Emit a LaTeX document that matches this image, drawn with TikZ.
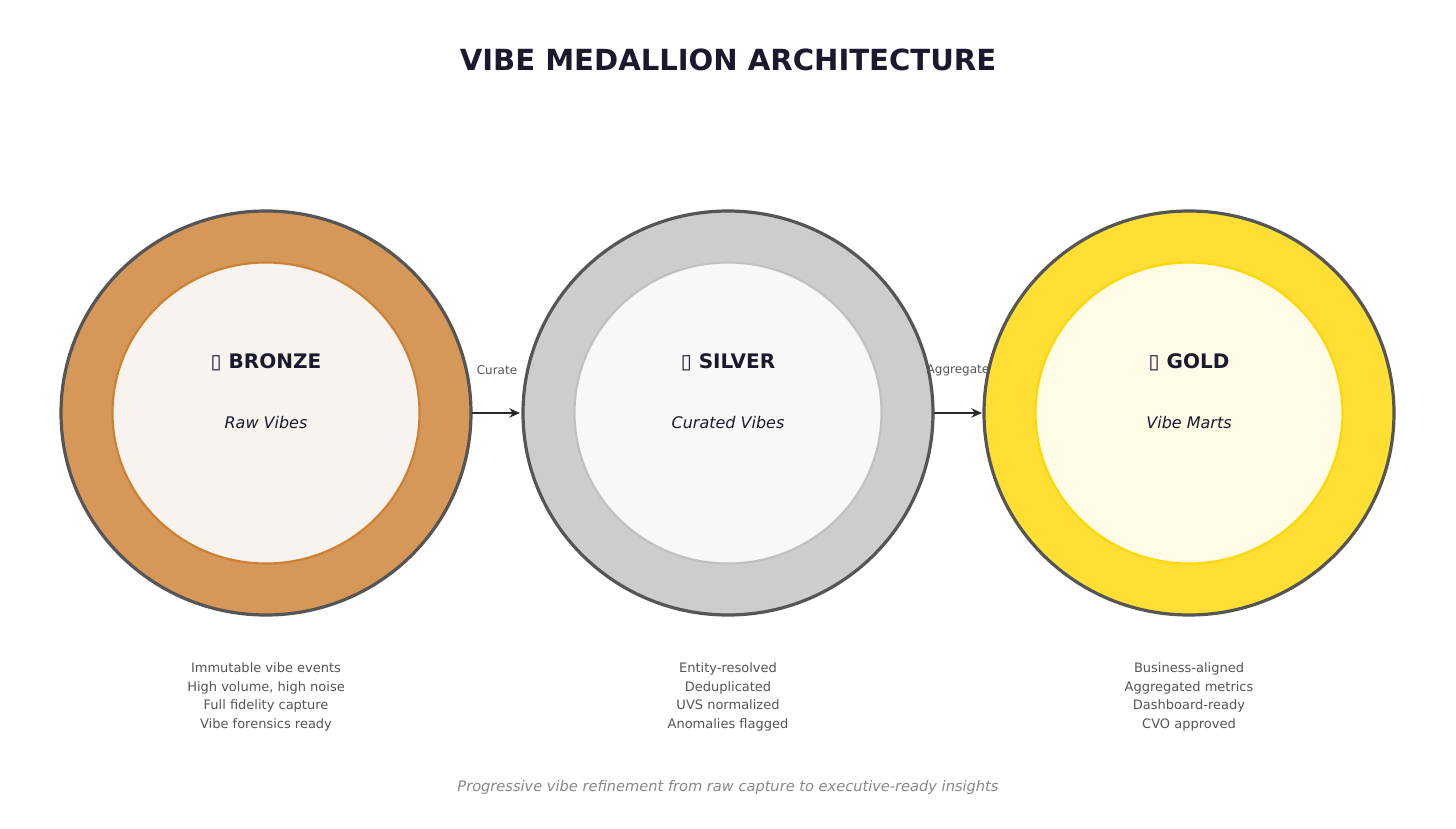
\documentclass[tikz,border=0pt]{standalone}
\usepackage{fontspec}
\setmainfont{DejaVu Sans}
\newfontfamily\symfont{DejaVu Sans}
\usetikzlibrary{arrows.meta}
\definecolor{titlec}{HTML}{1A1A2E}
\definecolor{ringc}{HTML}{555555}
\definecolor{arrowc}{HTML}{2A2A2A}
\definecolor{bronzeo}{HTML}{D69859}
\definecolor{bronzei}{HTML}{F8F3EE}
\definecolor{bronzes}{HTML}{CD7F32}
\definecolor{silvero}{HTML}{CDCDCD}
\definecolor{silveri}{HTML}{F8F8F8}
\definecolor{silvers}{HTML}{C0C0C0}
\definecolor{goldo}{HTML}{FFDF33}
\definecolor{goldi}{HTML}{FFFBE6}
\definecolor{golds}{HTML}{FFD700}
\definecolor{descc}{HTML}{555555}
\definecolor{footc}{HTML}{888888}
\newcommand{\fpx}[2]{\fontsize{\dimexpr #1pt*3/4\relax}{\dimexpr #2pt*3/4\relax}\selectfont}
\tikzset{
  lvltitle/.style={font=\fpx{20}{24}\bfseries, text=titlec, inner sep=0pt},
  lvlsub/.style={font=\fpx{16}{19}\itshape, text=titlec, inner sep=0pt},
  desc/.style={font=\fpx{13}{18.7}, text=descc, align=center, inner sep=0pt},
  flowlbl/.style={font=\fpx{12}{14}, text=descc, inner sep=0pt},
  flow/.style={-{Stealth[length=8pt,width=7pt]}, draw=arrowc, line width=2pt}
}
\begin{document}
\begin{tikzpicture}[x=0.75pt,y=-0.75pt]
\useasboundingbox[fill=white] (0,0) rectangle (1456,828);
\node[font=\fpx{29.1}{34}\bfseries, text=titlec, inner sep=0pt] (title) at (728,60) {VIBE MEDALLION ARCHITECTURE};
% bronze
\fill[bronzeo, draw=ringc, line width=2.4pt] (266,413) ellipse [x radius=205, y radius=202];
\fill[bronzei, draw=bronzes, line width=1.6pt] (266,413) ellipse [x radius=153.5, y radius=150.5];
% silver
\fill[silvero, draw=ringc, line width=2.4pt] (728,413) ellipse [x radius=205, y radius=202];
\fill[silveri, draw=silvers, line width=1.6pt] (728,413) ellipse [x radius=153.5, y radius=150.5];
% gold
\fill[goldo, draw=ringc, line width=2.4pt] (1189,413) ellipse [x radius=205, y radius=202];
\fill[goldi, draw=golds, line width=1.6pt] (1189,413) ellipse [x radius=153.5, y radius=150.5];
\coordinate (bR) at (472,413);
\coordinate (sL) at (520,413);
\coordinate (sR) at (934,413);
\coordinate (gL) at (982,413);
\draw[flow] (bR) -- (sL);
\draw[flow] (sR) -- (gL);
\node[flowlbl] (curate) at (497,370) {Curate};
\node[flowlbl] (aggr) at (958,370) {Aggregate};
\node[lvltitle] (bt) at (266,362) {{\symfont ▯} BRONZE};
\node[lvlsub] (bs) at (266,423) {Raw Vibes};
\node[lvltitle] (st) at (728,362) {{\symfont ▯} SILVER};
\node[lvlsub] (ss) at (728,423) {Curated Vibes};
\node[lvltitle] (gt) at (1189,362) {{\symfont ▯} GOLD};
\node[lvlsub] (gs) at (1189,423) {Vibe Marts};
\node[desc] (bd) at (266,697) {Immutable vibe events\\High volume, high noise\\Full fidelity capture\\Vibe forensics ready};
\node[desc] (sd) at (728,697) {Entity-resolved\\Deduplicated\\UVS normalized\\Anomalies flagged};
\node[desc] (gd) at (1189,697) {Business-aligned\\Aggregated metrics\\Dashboard-ready\\CVO approved};
\node[font=\fpx{14.6}{17}\itshape, text=footc, inner sep=0pt] (foot) at (728,787) {Progressive vibe refinement from raw capture to executive-ready insights};
\end{tikzpicture}
\end{document}
